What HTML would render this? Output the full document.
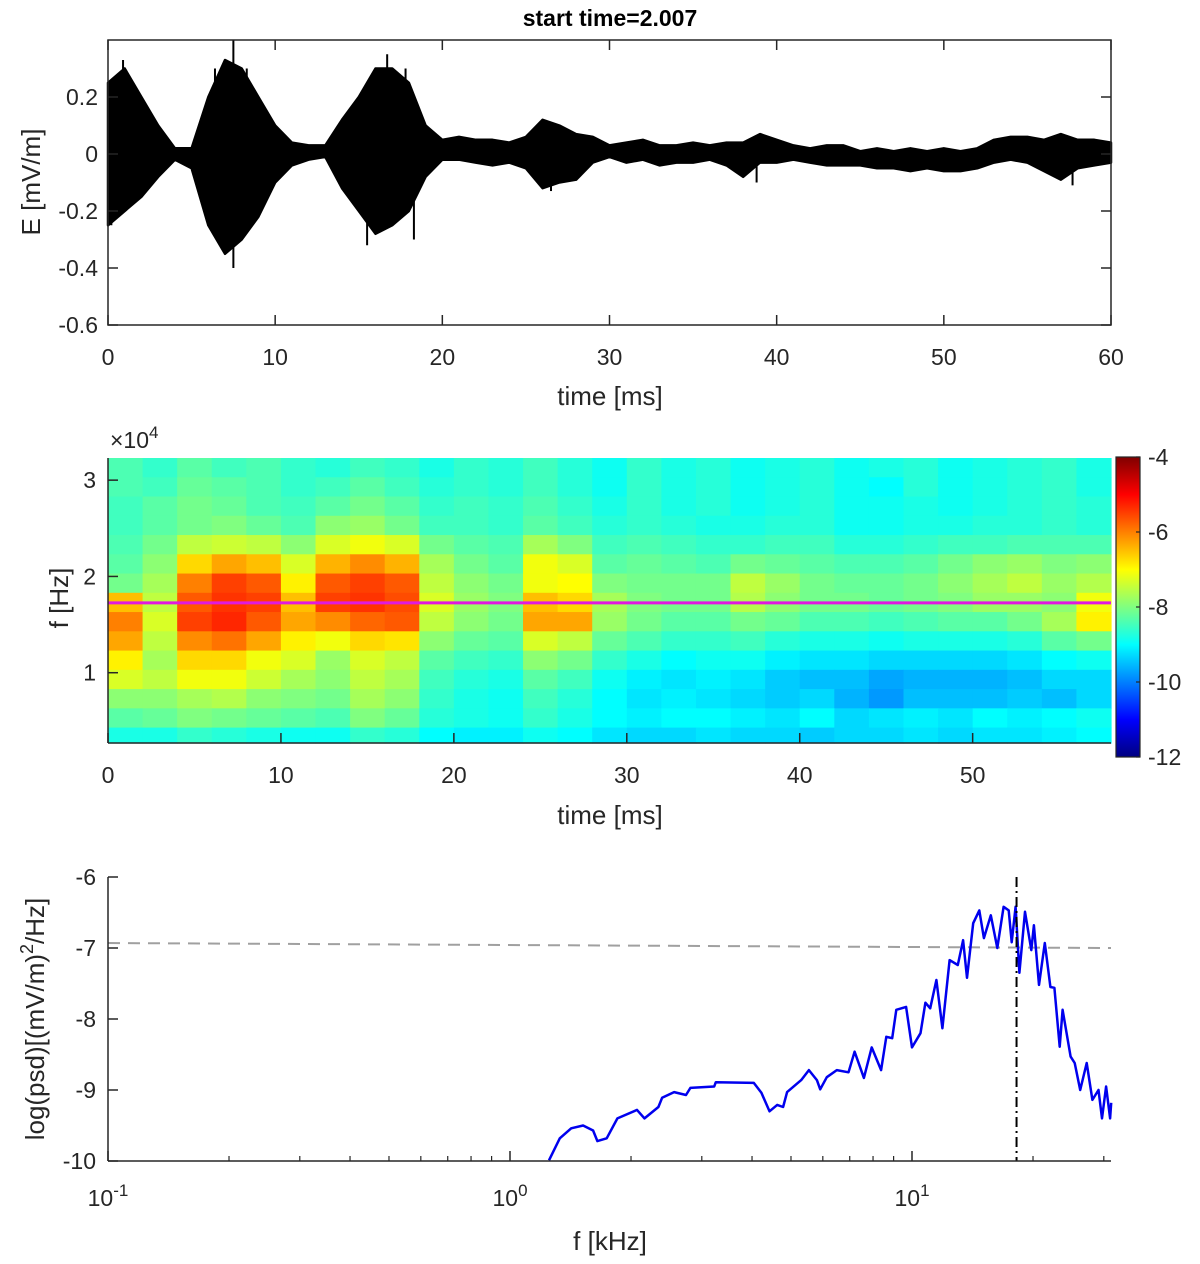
<!DOCTYPE html>
<html><head><meta charset="utf-8"><style>
html,body{margin:0;padding:0;background:#fff;}
svg{display:block;font-family:"Liberation Sans",sans-serif;}
</style></head><body>
<svg id="fig" width="1200" height="1264" viewBox="0 0 1200 1264" xmlns="http://www.w3.org/2000/svg">
<text x="610" y="26" font-size="23" font-weight="bold" text-anchor="middle">start time=2.007</text>
<g id="p1"></g>
<g id="p2"></g>
<g id="p3"></g>
</svg>
<script>
// ---------- Panel 1 data ----------
const sigTimes=[0,1,2,3,4,5,6,7,8,9,10,11,12,13,14,15,16,17,18,19,20,21,22,23,24,25,26,27,28,29,30,31,32,33,34,35,36,37,38,39,40,41,42,43,44,45,46,47,48,49,50,51,52,53,54,55,56,57,58,59,60];
const sigUpper=[0.25,0.3,0.2,0.1,0.02,0.02,0.2,0.33,0.3,0.2,0.1,0.04,0.03,0.03,0.12,0.2,0.3,0.3,0.25,0.1,0.05,0.06,0.05,0.05,0.04,0.06,0.12,0.1,0.07,0.06,0.03,0.04,0.05,0.03,0.03,0.04,0.03,0.04,0.04,0.07,0.05,0.03,0.02,0.03,0.03,0.01,0.02,0.01,0.02,0.01,0.02,0.01,0.02,0.05,0.06,0.06,0.05,0.07,0.05,0.05,0.04];
const sigLower=[-0.25,-0.2,-0.15,-0.08,-0.02,-0.05,-0.25,-0.35,-0.3,-0.22,-0.1,-0.04,-0.02,-0.01,-0.12,-0.2,-0.28,-0.25,-0.2,-0.08,-0.02,-0.02,-0.03,-0.04,-0.03,-0.05,-0.12,-0.1,-0.09,-0.03,-0.01,-0.03,-0.02,-0.04,-0.03,-0.03,-0.02,-0.04,-0.08,-0.03,-0.03,-0.02,-0.03,-0.04,-0.04,-0.04,-0.05,-0.05,-0.06,-0.05,-0.06,-0.06,-0.05,-0.03,-0.02,-0.03,-0.06,-0.09,-0.05,-0.04,-0.03];
const spikeTimes=[0.2,0.9,6.4,7.5,7.5,8.3,15.5,16.7,17.8,18.3,26.5,38.8,57.7];
const spikeVals=[-0.25,0.33,0.3,0.4,-0.4,0.3,-0.32,0.35,0.3,-0.3,-0.13,-0.1,-0.11];
const p1XTicks=[0,10,20,30,40,50,60];
const p1YTicks=[-0.6,-0.4,-0.2,0,0.2];
// ---------- Panel 2 data ----------
const specFreqs=[3.13,2.93,2.73,2.53,2.33,2.13,1.93,1.73,1.53,1.33,1.13,0.93,0.73,0.53,0.33]; // x1e4 Hz band centres
const specTimes=[0,2,4,6,8,10,12,14,16,18,20,22,24,26,28,30,32,34,36,38,40,42,44,46,48,50,52,54,56]; // column starts (ms)
const specRow0=[-8.4,-8.6,-8.3,-8.5,-8.4,-8.6,-8.7,-8.5,-8.6,-8.8,-8.6,-8.7,-8.5,-8.7,-8.9,-8.6,-8.8,-8.7,-8.9,-8.8,-8.7,-8.9,-8.8,-8.7,-8.9,-8.8,-8.7,-8.6,-8.8];
const specRow1=[-8.4,-8.5,-8.2,-8.3,-8.4,-8.6,-8.5,-8.3,-8.5,-8.7,-8.6,-8.7,-8.5,-8.7,-8.9,-8.6,-8.8,-8.7,-8.9,-8.8,-8.7,-8.9,-9.0,-8.7,-8.9,-8.8,-8.7,-8.6,-8.8];
const specRow2=[-8.5,-8.3,-8.1,-8.2,-8.4,-8.5,-8.3,-8.1,-8.3,-8.6,-8.5,-8.6,-8.4,-8.6,-8.8,-8.6,-8.8,-8.7,-8.9,-8.8,-8.7,-8.9,-8.9,-8.8,-8.9,-8.8,-8.7,-8.6,-8.7];
const specRow3=[-8.5,-8.3,-8.1,-8.0,-8.2,-8.4,-7.9,-7.8,-8.1,-8.5,-8.5,-8.6,-8.3,-8.5,-8.7,-8.6,-8.7,-8.8,-8.8,-8.7,-8.7,-8.9,-8.9,-8.8,-8.8,-8.7,-8.7,-8.6,-8.7];
const specRow4=[-8.4,-8.1,-7.5,-7.4,-7.5,-7.9,-7.3,-7.1,-7.3,-8.1,-8.3,-8.4,-7.7,-8.0,-8.5,-8.4,-8.5,-8.6,-8.6,-8.5,-8.5,-8.7,-8.7,-8.6,-8.5,-8.5,-8.4,-8.4,-8.4];
const specRow5=[-8.3,-7.9,-6.7,-6.3,-6.5,-7.3,-6.4,-6.1,-6.4,-7.7,-8.1,-8.3,-7.1,-7.3,-8.3,-8.2,-8.3,-8.4,-8.1,-8.2,-8.3,-8.4,-8.4,-8.3,-8.1,-7.9,-7.8,-8.0,-7.9];
const specRow6=[-8.1,-7.7,-6.0,-5.5,-5.7,-6.9,-5.7,-5.5,-5.7,-7.5,-7.9,-8.1,-7.1,-7.0,-8.0,-8.1,-8.1,-8.1,-7.5,-7.8,-8.1,-8.2,-8.2,-8.1,-7.9,-7.7,-7.5,-7.8,-7.6];
const specRow7=[-6.5,-7.5,-5.7,-5.4,-5.5,-6.5,-5.5,-5.4,-5.6,-7.3,-7.8,-8.0,-6.5,-6.7,-7.7,-8.0,-8.1,-8.1,-7.6,-7.9,-8.1,-8.1,-8.2,-8.1,-8.0,-7.8,-7.8,-7.9,-7.1];
const specRow8=[-6.0,-7.3,-5.5,-5.3,-5.7,-6.3,-6.1,-5.8,-5.7,-7.5,-7.9,-8.1,-6.3,-6.3,-7.8,-8.1,-8.3,-8.3,-8.1,-8.2,-8.4,-8.4,-8.5,-8.4,-8.3,-8.3,-8.1,-7.7,-6.9];
const specRow9=[-6.3,-7.5,-6.1,-5.9,-6.3,-6.9,-7.1,-6.7,-6.8,-7.9,-8.2,-8.3,-7.3,-7.5,-8.2,-8.4,-8.6,-8.6,-8.5,-8.7,-8.8,-8.8,-8.9,-8.8,-8.8,-8.8,-8.7,-8.3,-8.1];
const specRow10=[-6.9,-7.7,-6.7,-6.7,-7.1,-7.3,-7.8,-7.3,-7.5,-8.3,-8.5,-8.6,-7.9,-8.1,-8.6,-8.8,-9.0,-8.9,-8.9,-9.1,-9.2,-9.2,-9.3,-9.3,-9.3,-9.3,-9.2,-9.0,-8.9];
const specRow11=[-7.3,-7.5,-7.1,-7.1,-7.4,-7.7,-7.9,-7.5,-7.7,-8.5,-8.7,-8.8,-8.3,-8.5,-8.9,-9.1,-9.2,-9.1,-9.2,-9.4,-9.5,-9.5,-9.7,-9.6,-9.6,-9.6,-9.5,-9.3,-9.3];
const specRow12=[-7.9,-7.9,-7.7,-7.6,-7.9,-8.0,-8.1,-7.7,-7.9,-8.6,-8.8,-8.9,-8.5,-8.7,-9.0,-9.2,-9.1,-9.2,-9.3,-9.4,-9.3,-9.6,-9.8,-9.5,-9.5,-9.5,-9.4,-9.5,-9.3];
const specRow13=[-8.3,-8.2,-8.0,-8.1,-8.2,-8.3,-8.4,-8.0,-8.2,-8.7,-8.8,-8.9,-8.6,-8.8,-9.0,-9.1,-9.0,-9.0,-9.1,-9.2,-9.0,-9.3,-9.2,-9.1,-9.2,-9.0,-9.1,-9.0,-8.9];
const specRow14=[-8.8,-8.8,-8.6,-8.7,-8.8,-8.9,-8.9,-8.6,-8.7,-9.0,-9.1,-9.1,-8.9,-9.0,-9.2,-9.3,-9.3,-9.2,-9.3,-9.3,-9.4,-9.3,-9.3,-9.2,-9.3,-9.2,-9.2,-9.1,-9.0];
const magentaFreq=1.725;
const p2XTicks=[0,10,20,30,40,50];
const p2YTicks=[1,2,3];
const cbTicks=[-4,-6,-8,-10,-12];
// ---------- Panel 3 data ----------
const psdF=[1.25,1.33,1.42,1.52,1.61,1.65,1.74,1.85,2.07,2.16,2.34,2.39,2.56,2.74,2.81,3.22,3.25,4.04,4.22,4.42,4.62,4.78,4.89,5.30,5.54,5.80,5.91,6.14,6.50,6.95,7.20,7.59,7.94,8.38,8.63,8.93,9.14,9.67,10.0,10.5,10.8,11.1,11.5,11.9,12.4,13.0,13.4,13.7,14.2,14.7,15.1,15.7,16.3,16.9,17.4,17.7,18.1,18.5,19.1,19.8,20.1,20.7,21.4,22.1,22.6,23.3,23.7,24.8,25.4,26.2,27.2,28.1,29.1,29.7,30.4,31.1,31.3];
const psdV=[-9.99,-9.68,-9.54,-9.5,-9.57,-9.72,-9.68,-9.4,-9.28,-9.4,-9.24,-9.11,-9.03,-9.07,-8.97,-8.95,-8.89,-8.9,-9.04,-9.3,-9.21,-9.24,-9.03,-8.86,-8.72,-8.86,-8.99,-8.82,-8.72,-8.75,-8.46,-8.83,-8.4,-8.72,-8.25,-8.27,-7.87,-7.83,-8.4,-8.2,-7.77,-7.85,-7.45,-8.13,-7.17,-7.24,-6.89,-7.42,-6.65,-6.47,-6.86,-6.54,-7.0,-6.42,-6.47,-6.92,-6.42,-7.35,-6.49,-7.03,-6.68,-7.52,-6.93,-7.55,-7.56,-8.39,-7.87,-8.53,-8.62,-9.0,-8.62,-9.14,-9.0,-9.4,-8.95,-9.4,-9.18];
const peakFreq=18.2;
const noiseLevelStart=-6.93, noiseLevelEnd=-7.0;
const p3XTickExp=[-1,0,1];
const p3YTicks=[-10,-9,-8,-7,-6];

const NS="http://www.w3.org/2000/svg";
function mk(parent,tag,attrs){const e=document.createElementNS(NS,tag);for(const k in attrs)e.setAttribute(k,attrs[k]);parent.appendChild(e);return e;}
function txt(parent,x,y,s,size,anchor){const t=mk(parent,'text',{x:x,y:y,'font-size':size,'text-anchor':anchor||'middle',fill:'#262626'});t.textContent=s;return t;}

// ===== Panel 1 =====
(function(){
const g=document.getElementById('p1');
const L=108,R=1111,T=40,B=325;
const X=t=>L+(t-0)/(60-0)*(R-L);
const Y=v=>B-(v+0.6)/(1.0)*(B-T);
let d='';
sigTimes.forEach((t,i)=>{d+=(i?'L':'M')+X(t).toFixed(1)+' '+Y(sigUpper[i]).toFixed(1);});
for(let i=sigTimes.length-1;i>=0;i--){d+='L'+X(sigTimes[i]).toFixed(1)+' '+Y(sigLower[i]).toFixed(1);}
const band=mk(g,'path',{d:d+'Z',fill:'#000',stroke:'#000','stroke-width':2.5,'stroke-linejoin':'round'});


spikeTimes.forEach((t,i)=>{
 const s=mk(g,'line',{x1:X(t),x2:X(t),y1:Y(0),y2:Y(spikeVals[i]),stroke:'#000','stroke-width':2});
 
 
});
const box=mk(g,'rect',{x:L,y:T,width:R-L,height:B-T,fill:'none',stroke:'#262626','stroke-width':1.5});


p1XTicks.forEach(t=>{
 mk(g,'line',{x1:X(t),x2:X(t),y1:B,y2:B-10,stroke:'#262626','stroke-width':1.5});
 mk(g,'line',{x1:X(t),x2:X(t),y1:T,y2:T+10,stroke:'#262626','stroke-width':1.5});
 const l=txt(g,X(t),B+40,String(t),23);
 
 
});
p1YTicks.forEach(v=>{
 mk(g,'line',{x1:L,x2:L+10,y1:Y(v),y2:Y(v),stroke:'#262626','stroke-width':1.5});
 mk(g,'line',{x1:R,x2:R-10,y1:Y(v),y2:Y(v),stroke:'#262626','stroke-width':1.5});
 const l=txt(g,L-10,Y(v)+8,String(v),23,'end');
 
 
});
const xl=txt(g,610,405,'time [ms]',26);


const yl=txt(g,0,0,'E [mV/m]',26);
yl.setAttribute('transform','translate(40,182) rotate(-90)');


})();

// ===== Panel 2 =====
function jet(v){
 let t=(v+12)/8; t=Math.max(0,Math.min(1,t));
 const f=x=>Math.max(0,Math.min(1,x));
 const r=f(1.5-Math.abs(4*t-3)), gg=f(1.5-Math.abs(4*t-2)), b=f(1.5-Math.abs(4*t-1));
 return 'rgb('+Math.round(r*255)+','+Math.round(gg*255)+','+Math.round(b*255)+')';
}
(function(){
const g=document.getElementById('p2');
const L=108,R=1111,T=458,B=743;
const tMax=58, fMin=0.27, fMax=3.23;
const X=t=>L+t/tMax*(R-L);
const Y=f=>B-(f-fMin)/(fMax-fMin)*(B-T);
const rows=[specRow0,specRow1,specRow2,specRow3,specRow4,specRow5,specRow6,specRow7,specRow8,specRow9,specRow10,specRow11,specRow12,specRow13,specRow14];
const band=0.2;
rows.forEach((row,ri)=>{
 const f=specFreqs[ri];
 const y1=Y(Math.min(fMax,f+band/2)), y2=Y(Math.max(fMin,f-band/2));
 row.forEach((v,ci)=>{
  const t0=specTimes[ci], t1=Math.min(tMax,t0+2);
  const c=mk(g,'rect',{x:X(t0),y:y1,width:X(t1)-X(t0)+0.6,height:y2-y1+0.6,fill:jet(v)});
  
  
 });
});
const m=mk(g,'line',{x1:L,x2:R,y1:Y(magentaFreq),y2:Y(magentaFreq),stroke:'#e01ae0','stroke-width':3});


mk(g,'line',{x1:L,x2:L,y1:T,y2:B,stroke:'#262626','stroke-width':1.5});
mk(g,'line',{x1:L,x2:R,y1:B,y2:B,stroke:'#262626','stroke-width':1.5});
p2XTicks.forEach(t=>{
 mk(g,'line',{x1:X(t),x2:X(t),y1:B,y2:B-10,stroke:'#262626','stroke-width':1.5});
 const l=txt(g,X(t),B+40,String(t),23);
 
 
});
p2YTicks.forEach(v=>{
 mk(g,'line',{x1:L,x2:L+10,y1:Y(v),y2:Y(v),stroke:'#262626','stroke-width':1.5});
 const l=txt(g,L-12,Y(v)+8,String(v),23,'end');
 
 
});
const ex=mk(g,'text',{x:110,y:448,'font-size':23,fill:'#262626'});
ex.innerHTML='×10<tspan dy="-10" font-size="17">4</tspan>';


const xl=txt(g,610,824,'time [ms]',26);


const yl=txt(g,0,0,'f [Hz]',26);
yl.setAttribute('transform','translate(68,598) rotate(-90)');


// colorbar
const cbL=1116,cbR=1140,cbT=457,cbB=757;
const defs=mk(g,'defs',{});
const lg=mk(defs,'linearGradient',{id:'jetg',x1:0,y1:1,x2:0,y2:0});
for(let i=0;i<=16;i++){mk(lg,'stop',{offset:(i/16),'stop-color':jet(-12+8*i/16)});}
const cb=mk(g,'rect',{x:cbL,y:cbT,width:cbR-cbL,height:cbB-cbT,fill:'url(#jetg)',stroke:'#262626','stroke-width':1.2});


const CY=v=>cbB-(v+12)/8*(cbB-cbT);
cbTicks.forEach(v=>{
 mk(g,'line',{x1:cbR,x2:cbR-4,y1:CY(v),y2:CY(v),stroke:'#262626','stroke-width':1.2});
 const l=txt(g,cbR+8,CY(v)+8,String(v),23,'start');
 
 
});
})();

// ===== Panel 3 =====
(function(){
const g=document.getElementById('p3');
const L=108,R=1111,T=877,B=1161;
const dec=402;
const X=f=>L+(Math.log10(f)+1)*dec;
const Y=v=>B-(v+10)/4*(B-T);
const nl=mk(g,'line',{x1:L,x2:R,y1:Y(noiseLevelStart),y2:Y(noiseLevelEnd),stroke:'#a0a0a0','stroke-width':2,'stroke-dasharray':'12 8'});


let d='';
psdF.forEach((f,i)=>{d+=(i?'L':'M')+X(f).toFixed(1)+' '+Y(psdV[i]).toFixed(1);});
const p=mk(g,'path',{d:d,fill:'none',stroke:'#0000ee','stroke-width':2.5,'stroke-linejoin':'round'});


const pk=mk(g,'line',{x1:X(peakFreq),x2:X(peakFreq),y1:T,y2:B,stroke:'#000','stroke-width':2,'stroke-dasharray':'10 4 2 4'});


mk(g,'line',{x1:L,x2:L,y1:T,y2:B,stroke:'#262626','stroke-width':1.5});
mk(g,'line',{x1:L,x2:R,y1:B,y2:B,stroke:'#262626','stroke-width':1.5});
p3XTickExp.forEach(e=>{
 const x=X(Math.pow(10,e));
 mk(g,'line',{x1:x,x2:x,y1:B,y2:B-10,stroke:'#262626','stroke-width':1.5});
 const l=mk(g,'text',{x:x,y:B+45,'font-size':23,'text-anchor':'middle',fill:'#262626'});
 l.innerHTML='10<tspan dy="-10" font-size="17">'+e+'</tspan>';
 
 
 for(let k=2;k<=9;k++){const f=k*Math.pow(10,e);if(X(f)<=R+0.5)mk(g,'line',{x1:X(f),x2:X(f),y1:B,y2:B-5,stroke:'#262626','stroke-width':1.2});}
});
p3YTicks.forEach(v=>{
 mk(g,'line',{x1:L,x2:L+10,y1:Y(v),y2:Y(v),stroke:'#262626','stroke-width':1.5});
 const l=txt(g,L-12,Y(v)+8,String(v),23,'end');
 
 
});
const xl=txt(g,610,1250,'f [kHz]',26);


const yl=mk(g,'text',{'font-size':26,'text-anchor':'middle',fill:'#262626',transform:'translate(44,1019) rotate(-90)'});
yl.innerHTML='log(psd)[(mV/m)<tspan dy="-11" font-size="18">2</tspan><tspan dy="11">/Hz]</tspan>';


})();
</script>
</body></html>
